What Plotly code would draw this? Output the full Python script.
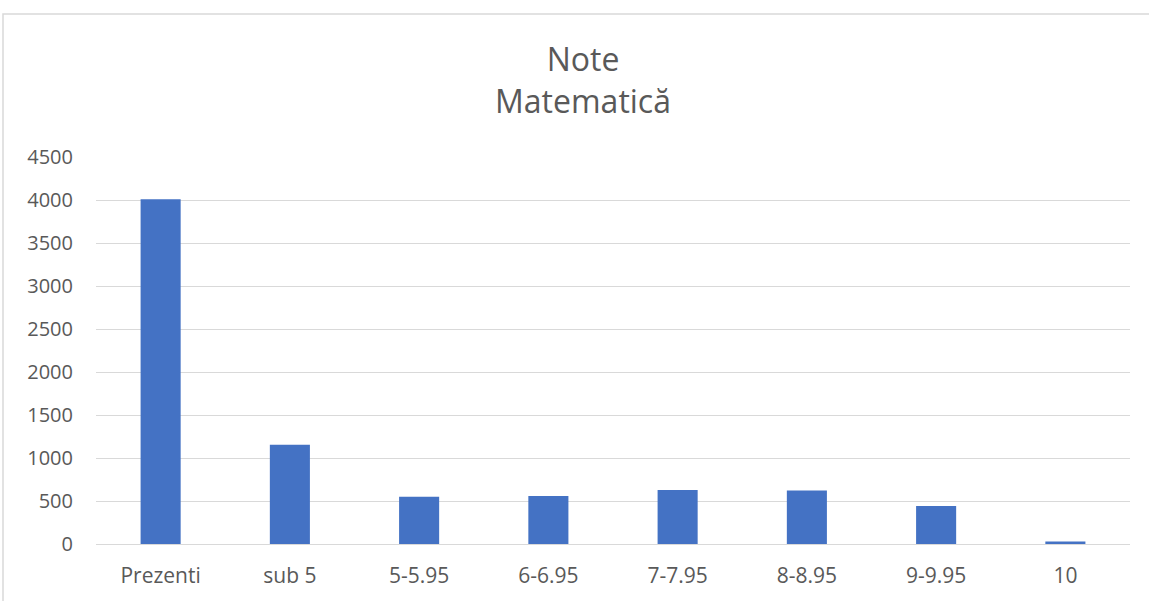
"""Bar chart: Note Matematică — distribution of grades."""

import plotly.graph_objects as go

categories = ["Prezenti", "sub 5", "5-5.95", "6-6.95", "7-7.95", "8-8.95", "9-9.95", "10"]
counts = [4010, 1155, 550, 558, 628, 623, 443, 28]
y_ticks = [0, 500, 1000, 1500, 2000, 2500, 3000, 3500, 4000, 4500]

TEXT_COLOR = "#595959"
GRID_COLOR = "#d9d9d9"
BAR_COLOR = "#4472c4"
FONT = "Open Sans, Noto Sans, sans-serif"

fig = go.Figure(
    go.Bar(
        x=categories,
        y=counts,
        marker={"color": BAR_COLOR, "line": {"width": 0}},
    )
)

fig.update_layout(
    width=1149,
    height=601,
    margin={"l": 96, "r": 19, "t": 157, "b": 54},
    paper_bgcolor="white",
    plot_bgcolor="white",
    bargap=0.69,
    showlegend=False,
    font={"family": FONT, "color": TEXT_COLOR, "size": 20},
    title={
        "text": "Note<br>Matematică",
        "x": 583 / 1149,
        "xanchor": "center",
        "y": 1 - 71 / 601,
        "yanchor": "middle",
        "yref": "container",
        "font": {"size": 32, "color": TEXT_COLOR, "family": FONT},
    },
)

fig.update_yaxes(
    range=[0, 4500],
    tickvals=y_ticks,
    showgrid=True,
    gridcolor=GRID_COLOR,
    gridwidth=1.3,
    zeroline=False,
    showline=False,
    ticks="",
    ticklabelstandoff=22,
    tickfont={"size": 20, "color": TEXT_COLOR},
)
fig.update_xaxes(
    showgrid=False,
    showline=True,
    linecolor=GRID_COLOR,
    linewidth=1.3,
    ticks="",
    ticklabelstandoff=13,
    tickfont={"size": 21, "color": TEXT_COLOR},
)

# outer chart-area border (light grey, runs off the right and bottom edges)
fig.add_shape(
    type="rect",
    xref="paper",
    yref="paper",
    x0=(3 - 96) / 1034,
    x1=(1160 - 96) / 1034,
    y0=(547 - 620) / 390,
    y1=(547 - 13) / 390,
    line={"color": GRID_COLOR, "width": 1.5},
    fillcolor="rgba(0,0,0,0)",
    layer="below",
)

# drop the default page margin so the figure sits at the window origin
fig.write_html(
    "out.html",
    config={"displayModeBar": False},
    post_script="document.body.style.margin='0';",
)
